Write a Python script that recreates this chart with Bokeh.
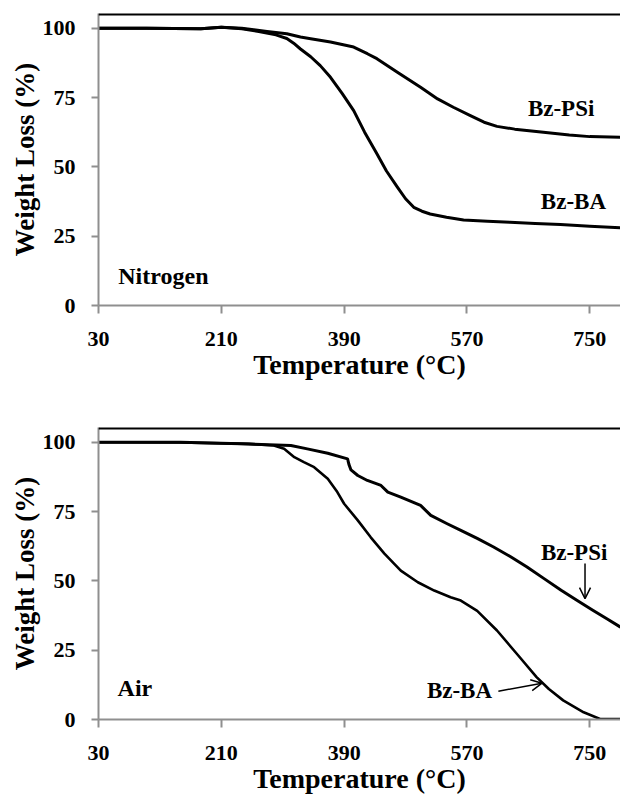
from bokeh.plotting import figure
from bokeh.models import Range1d, FixedTicker, Span, Label, Arrow, OpenHead
from bokeh.layouts import column
from bokeh.embed import file_html
from bokeh.resources import INLINE

# ---------------- data ----------------
x_ticks = [30, 210, 390, 570, 750]
y_ticks = [0, 25, 50, 75, 100]

# Nitrogen
n2_ba_T = [30, 100, 180, 210, 240, 265, 290, 306, 316, 326, 341, 355, 370, 387, 404, 420, 438, 452, 468, 480, 492, 504, 516, 540, 565, 600, 633, 670, 707, 750, 795]
n2_ba_w = [100, 100, 99.8, 100.3, 99.8, 98.8, 97.6, 96.3, 94.6, 92.5, 89.7, 86.5, 82.3, 76.5, 70.3, 62.5, 54.7, 48.5, 42.7, 38.5, 35.4, 34.0, 33.0, 31.8, 30.8, 30.4, 30.0, 29.6, 29.2, 28.6, 28.0]
n2_psi_T = [30, 100, 180, 210, 240, 277, 306, 326, 341, 370, 404, 424, 438, 468, 502, 527, 550, 575, 595, 614, 640, 682, 720, 750, 795]
n2_psi_w = [100, 100, 99.8, 100.3, 100, 98.8, 98.0, 96.8, 96.2, 95.0, 93.2, 90.8, 89.0, 84.1, 78.7, 74.5, 71.5, 68.5, 66.1, 64.6, 63.6, 62.5, 61.5, 60.9, 60.7]

# Air
air_ba_T = [30, 150, 250, 287, 302, 317, 331, 346, 366, 380, 390, 410, 429, 449, 473, 498, 522, 546, 561, 585, 614, 643, 672, 690, 711, 741, 765, 795]
air_ba_w = [100, 99.9, 99.4, 98.8, 97.6, 94.6, 92.8, 91.0, 86.8, 82.0, 77.8, 71.8, 65.7, 59.8, 53.7, 49.5, 46.5, 44.1, 42.9, 39.2, 32.1, 23.7, 15.3, 11.0, 6.9, 2.6, 0.2, 0.2]
air_psi_T = [30, 150, 239, 312, 336, 366, 395, 397, 400, 410, 424, 444, 454, 473, 502, 517, 541, 561, 585, 609, 634, 658, 683, 708, 731, 755, 775, 795]
air_psi_w = [100, 100, 99.4, 98.8, 97.6, 96.0, 94.0, 92.0, 90.0, 88.0, 86.2, 84.4, 82.0, 80.2, 77.2, 73.6, 70.6, 68.2, 65.3, 62.2, 58.7, 55.0, 50.8, 46.6, 43.0, 39.3, 36.3, 33.3]

X_MIN, X_MAX = 30, 795
Y_MIN, Y_MAX, Y_TOP_LINE = 0, 105.3, 105

FONT = "'Liberation Serif', 'Times New Roman', serif"

def make_fig(height, top):
    p = figure(width=620, height=height, output_backend="svg", toolbar_location=None,
               x_range=Range1d(X_MIN, X_MAX), y_range=Range1d(Y_MIN, Y_MAX),
               min_border_left=98, min_border_right=0, min_border_top=top, min_border_bottom=85)
    p.outline_line_color = None
    p.xgrid.visible = False
    p.ygrid.visible = False
    p.background_fill_color = "white"
    p.border_fill_color = "white"
    for ax in (p.xaxis[0], p.yaxis[0]):
        ax.axis_line_color = "#8f8f8f"
        ax.axis_line_width = 2
        ax.major_tick_line_color = "#8f8f8f"
        ax.major_tick_line_width = 2
        ax.major_tick_in = 0
        ax.minor_tick_line_color = None
        ax.major_label_text_font = FONT
        ax.major_label_text_font_style = "bold"
        ax.major_label_text_font_size = "22px"
        ax.major_label_text_color = "black"
        ax.axis_label_text_font = FONT
        ax.axis_label_text_font_style = "bold"
        ax.axis_label_text_color = "black"
        ax.axis_label_standoff = 0
    p.xaxis.axis_label_text_font_size = "28px"
    p.yaxis.axis_label_text_font_size = "27px"
    p.xaxis.ticker = FixedTicker(ticks=x_ticks)
    p.yaxis.ticker = FixedTicker(ticks=y_ticks)
    p.xaxis.major_tick_out = 8
    p.yaxis.major_tick_out = 7
    p.xaxis.major_label_standoff = 18
    p.yaxis.major_label_standoff = 16
    p.xaxis.axis_label = "Temperature (\u00b0C)"
    p.yaxis.axis_label = "Weight Loss (%)"
    p.add_layout(Span(location=Y_TOP_LINE, dimension="width", line_color="black", line_width=2.5))
    return p

def label(p, x, y, text, size="23px", align="center"):
    p.add_layout(Label(x=x, y=y, text=text, text_font=FONT, text_font_style="bold",
                       text_font_size=size, text_align=align, text_baseline="middle",
                       text_color="black"))

# -------- top: nitrogen --------
p1 = make_fig(390, 13)
p1.line(n2_ba_T, n2_ba_w, line_color="black", line_width=3, line_join="round")
p1.line(n2_psi_T, n2_psi_w, line_color="black", line_width=3, line_join="round")
label(p1, 708, 71, "Bz-PSi")
label(p1, 726, 37.5, "Bz-BA")
label(p1, 59, 10.8, "Nitrogen", size="24px", align="left")

# -------- bottom: air --------
p2 = make_fig(414, 37)
p2.line(air_ba_T, air_ba_w, line_color="black", line_width=2.6, line_join="round")
p2.line(air_psi_T, air_psi_w, line_color="black", line_width=3, line_join="round")
label(p2, 727, 60.4, "Bz-PSi")
label(p2, 559, 10.5, "Bz-BA")
label(p2, 58, 11.2, "Air", size="24px", align="left")
p2.add_layout(Arrow(end=OpenHead(size=11, line_width=1.5, line_color="black"),
                    x_start=743, y_start=56.3, x_end=743, y_end=43.6,
                    line_width=1.5, line_color="black"))
p2.add_layout(Arrow(end=OpenHead(size=11, line_width=1.5, line_color="black"),
                    x_start=616, y_start=10.2, x_end=680, y_end=13.1,
                    line_width=1.5, line_color="black"))

layout = column(p1, p2, spacing=0)
open("out.html", "w").write(file_html(layout, INLINE))
